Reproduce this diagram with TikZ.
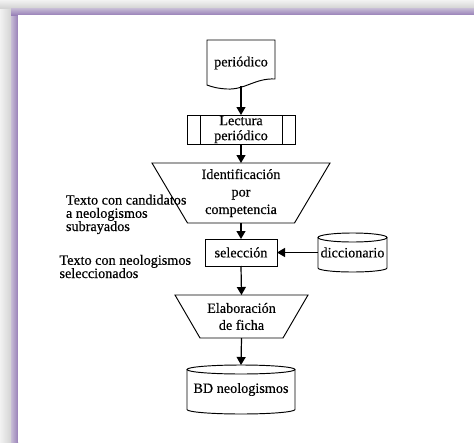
\documentclass[tikz,border=0pt]{standalone}
\usepackage{fontspec}
\setmainfont{Liberation Serif}[FakeBold=0.35]
\usetikzlibrary{arrows.meta,calc}
\definecolor{frameP}{RGB}{152,128,184}
\definecolor{frameL}{RGB}{200,190,214}
\begin{document}
\begin{tikzpicture}[x=1pt,y=1pt,
  every node/.style={font=\fontsize{14.2}{15}\selectfont, inner sep=0pt, outer sep=0pt},
  outline/.style={draw=black, line width=0.95pt},
  ghost/.style={rectangle, draw=none},
  flowarrow/.style={draw=black, line width=1.2pt, -{Triangle[length=8pt,width=9pt]}},
  note/.style={anchor=base west, align=left, font=\fontsize{14.2}{13.2}\selectfont}
]
\useasboundingbox (0,0) rectangle (474,-442);
% frame
\fill[white] (0,0) rectangle (474,-442);
\shade[left color=black!5, right color=black!17] (0,-8) rectangle (11,-442);
\shade[top color=black!5, bottom color=black!17] (0,0) rectangle (474,-8);
\shade[left color=frameL, right color=frameP] (11,-8) rectangle (18,-442);
\shade[top color=frameL, bottom color=frameP] (11,-8) rectangle (474,-15);
\fill[white] (18,-15) rectangle (474,-442);

% nodes
\node[ghost, minimum width=68pt, minimum height=46pt] (per) at (241,-63) {periódico};
\node[rectangle, outline, minimum width=108pt, minimum height=29pt, align=center] (lec) at (241,-129.5) {Lectura\\periódico};
\node[ghost, minimum width=178pt, minimum height=60pt, align=center, font=\fontsize{14.2}{17.5}\selectfont] (ide) at (241,-193) {Identificación\\por\\competencia};
\node[rectangle, outline, minimum width=72pt, minimum height=27pt] (sel) at (241,-252.5) {selección};
\node[ghost, minimum width=69pt, minimum height=39pt] (dic) at (352.5,-252.5) {\raisebox{-2pt}{diccionario}};
\node[ghost, minimum width=133pt, minimum height=43pt, align=center, font=\fontsize{14.2}{17}\selectfont] (ela) at (241.5,-316.5) {Elaboración\\de ficha};
\node[ghost, minimum width=108pt, minimum height=49pt] (bd) at (241,-389.5) {\raisebox{-3pt}{BD neologismos}};

% labels
\node[note] (n1) at (66,-231) {Texto con candidatos\\a neologismos\\subrayados};
\node[note] (n2) at (59.5,-278) {Texto con neologismos\\seleccionados};

% shapes
\draw[outline] (per.north west) -- (per.north east) -- (275,-79)
  .. controls (255,-78) and (245,-90) .. (227,-89)
  .. controls (218,-88.5) and (212,-87) .. (207,-85) -- cycle;
\draw[outline] ([xshift=13pt]lec.north west) -- ([xshift=13pt]lec.south west);
\draw[outline] ([xshift=-13pt]lec.north east) -- ([xshift=-13pt]lec.south east);
\draw[outline] (ide.north west) -- (ide.north east) -- ([xshift=-35.5pt]ide.south east) -- ([xshift=35.5pt]ide.south west) -- cycle;
\draw[outline] (ela.north west) -- (ela.north east) -- ([xshift=-25pt]ela.south east) -- ([xshift=25pt]ela.south west) -- cycle;
\draw[outline] ([yshift=-4.5pt]dic.north west) -- ([yshift=4pt]dic.south west)
  arc[start angle=180, end angle=360, x radius=34.5pt, y radius=4pt] -- ([yshift=-4.5pt]dic.north east);
\draw[outline] ([yshift=-4.5pt]dic.north) ellipse[x radius=34.5pt, y radius=4.5pt];
\draw[outline] ([yshift=-4.5pt]bd.north west) -- ([yshift=4.5pt]bd.south west)
  arc[start angle=180, end angle=360, x radius=54pt, y radius=4.5pt] -- ([yshift=-4.5pt]bd.north east);
\draw[outline] ([yshift=-4.5pt]bd.north) ellipse[x radius=54pt, y radius=4.5pt];

% connectors
\draw[flowarrow] (per.south) -- (lec.north);
\draw[flowarrow] (lec.south) -- (ide.north);
\draw[flowarrow] (ide.south) -- (sel.north);
\draw[flowarrow] (dic.west) -- (sel.east);
\draw[flowarrow] (sel.south) -- (ela.north);
\draw[flowarrow] (ela.south) -- (bd.north);
\end{tikzpicture}
\end{document}
